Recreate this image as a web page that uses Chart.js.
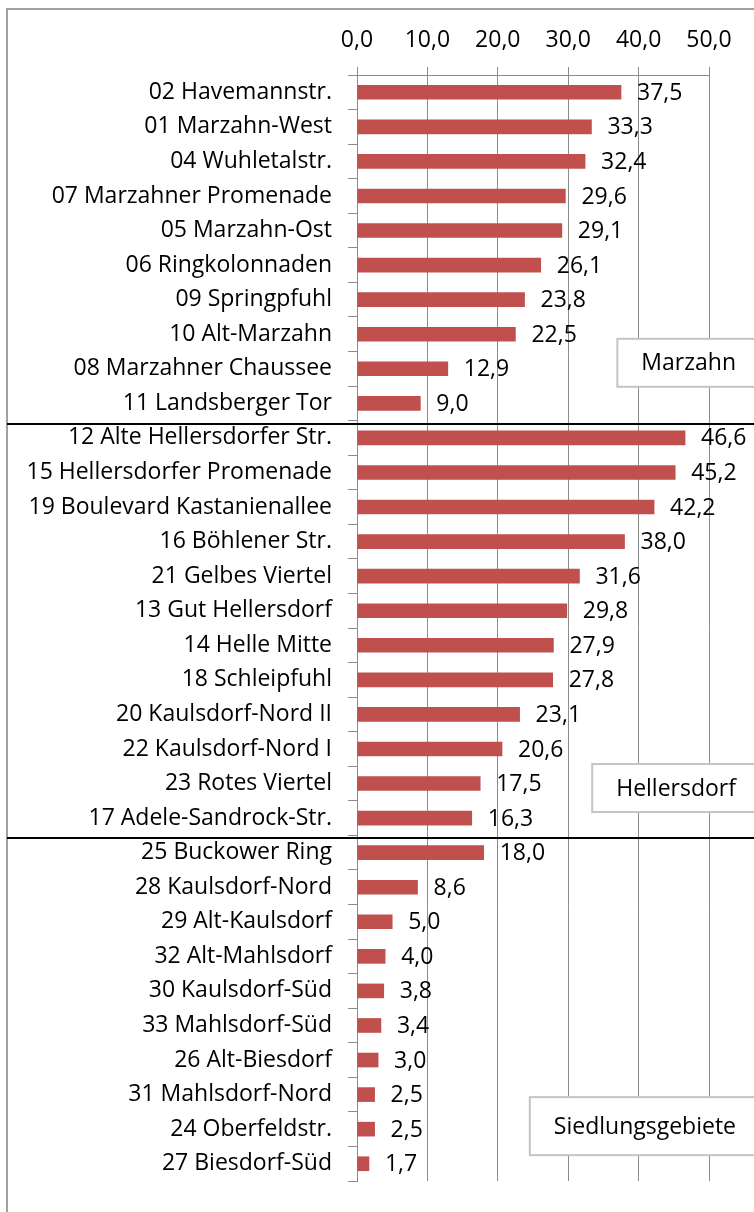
<!DOCTYPE html>
<html><head><meta charset="utf-8">
<script src="https://cdn.jsdelivr.net/npm/chart.js@4.4.1/dist/chart.umd.min.js"></script>
<style>html,body{margin:0;padding:0;background:#fff;overflow:hidden}#wrap{width:754px;height:1212px}</style>
</head><body><div id="wrap"><canvas id="c" width="754" height="1212"></canvas></div>
<script>
const categories = [
  '02 Havemannstr.','01 Marzahn-West','04 Wuhletalstr.','07 Marzahner Promenade','05 Marzahn-Ost',
  '06 Ringkolonnaden','09 Springpfuhl','10 Alt-Marzahn','08 Marzahner Chaussee','11 Landsberger Tor',
  '12 Alte Hellersdorfer Str.','15 Hellersdorfer Promenade','19 Boulevard Kastanienallee','16 Böhlener Str.',
  '21 Gelbes Viertel','13 Gut Hellersdorf','14 Helle Mitte','18 Schleipfuhl','20 Kaulsdorf-Nord II',
  '22 Kaulsdorf-Nord I','23 Rotes Viertel','17 Adele-Sandrock-Str.',
  '25 Buckower Ring','28 Kaulsdorf-Nord','29 Alt-Kaulsdorf','32 Alt-Mahlsdorf','30 Kaulsdorf-Süd',
  '33 Mahlsdorf-Süd','26 Alt-Biesdorf','31 Mahlsdorf-Nord','24 Oberfeldstr.','27 Biesdorf-Süd'
];
const values = [
  37.5, 33.3, 32.4, 29.6, 29.1, 26.1, 23.8, 22.5, 12.9, 9.0,
  46.6, 45.2, 42.2, 38.0, 31.6, 29.8, 27.9, 27.8, 23.1, 20.6, 17.5, 16.3,
  18.0, 8.6, 5.0, 4.0, 3.8, 3.4, 3.0, 2.5, 2.5, 1.7
];
const xTickLabels = ['0,0','10,0','20,0','30,0','40,0','50,0'];
const groupNames = ['Marzahn','Hellersdorf','Siedlungsgebiete'];
const groupFirstIndex = [0, 10, 22];
const groupLabelIndex = [8, 20, 30];

// decoration layout (not data)
const boxLayout = [
  {dy: -6, h: 48},
  {dy: 4.5, h: 48},
  {dy: -3, h: 58}
];
const FONT = "'Open Sans', sans-serif";
const FS = 23;

function fmt(v){ return v.toFixed(1).replace('.', ','); }

const deco = {
  id: 'deco',
  beforeDraw(chart){
    const ctx = chart.ctx;
    ctx.save();
    ctx.fillStyle = '#fff';
    ctx.fillRect(0, 0, chart.width, chart.height);
    ctx.strokeStyle = '#a0a0a0';
    ctx.lineWidth = 2;
    ctx.beginPath();
    ctx.moveTo(7, chart.height + 5);
    ctx.lineTo(7, 9);
    ctx.lineTo(chart.width + 5, 9);
    ctx.stroke();
    ctx.restore();
  },
  afterDatasetsDraw(chart){
    const ctx = chart.ctx;
    const meta = chart.getDatasetMeta(0);
    const ys = chart.scales.y;
    ctx.save();
    ctx.font = FS + 'px ' + FONT;
    ctx.fillStyle = '#000';
    ctx.textBaseline = 'middle';
    ctx.textAlign = 'left';
    meta.data.forEach((bar, i) => {
      ctx.fillText(fmt(values[i]), bar.x + 16, bar.y + 1);
    });
    // group boxes
    groupNames.forEach((name, g) => {
      const w = ctx.measureText(name).width + 48;
      const right = 760;
      const cy = ys.getPixelForValue(groupLabelIndex[g]) + boxLayout[g].dy;
      const h = boxLayout[g].h;
      ctx.fillStyle = '#fff';
      ctx.fillRect(right - w, cy - h / 2, w, h);
      ctx.strokeStyle = '#c4c4c4';
      ctx.lineWidth = 2;
      ctx.strokeRect(right - w, cy - h / 2, w, h);
      ctx.fillStyle = '#000';
      ctx.textAlign = 'center';
      ctx.fillText(name, right - w / 2, cy + 1);
      ctx.textAlign = 'left';
    });
    ctx.restore();
  },
  afterDraw(chart){
    const ctx = chart.ctx;
    const ys = chart.scales.y;
    ctx.save();
    ctx.strokeStyle = '#000';
    ctx.lineWidth = 2;
    groupFirstIndex.slice(1).forEach(idx => {
      const y = Math.round((ys.getPixelForValue(idx - 1) + ys.getPixelForValue(idx)) / 2 + 3);
      ctx.beginPath();
      ctx.moveTo(7, y);
      ctx.lineTo(chart.width, y);
      ctx.stroke();
    });
    ctx.restore();
  }
};

Chart.defaults.font.family = FONT;
Chart.defaults.font.size = FS;
Chart.defaults.color = '#000';

new Chart(document.getElementById('c'), {
  type: 'bar',
  data: {
    labels: categories,
    datasets: [{
      data: values,
      backgroundColor: '#C0504D',
      borderWidth: 0,
      barThickness: 14
    }]
  },
  options: {
    indexAxis: 'y',
    responsive: false,
    animation: false,
    devicePixelRatio: 1,
    layout: {padding: {left: 0, right: 45, top: 0, bottom: 31}},
    plugins: {legend: {display: false}, tooltip: {enabled: false}},
    scales: {
      x: {
        position: 'top',
        min: 0, max: 50,
        afterFit(s){ s.height = 75; },
        ticks: {
          stepSize: 10,
          padding: 13,
          maxRotation: 0,
          callback: (v, i) => xTickLabels[i]
        },
        grid: {color: '#8c8c8c', lineWidth: 1, tickLength: 8},
        border: {color: '#8c8c8c', width: 1}
      },
      y: {
        afterFit(s){ s.width = 357; },
        ticks: {padding: 16, autoSkip: false},
        grid: {offset: true, drawOnChartArea: false, color: '#8c8c8c', tickLength: 9},
        border: {color: '#8c8c8c', width: 1}
      }
    }
  },
  plugins: [deco]
});
</script>
</body></html>
